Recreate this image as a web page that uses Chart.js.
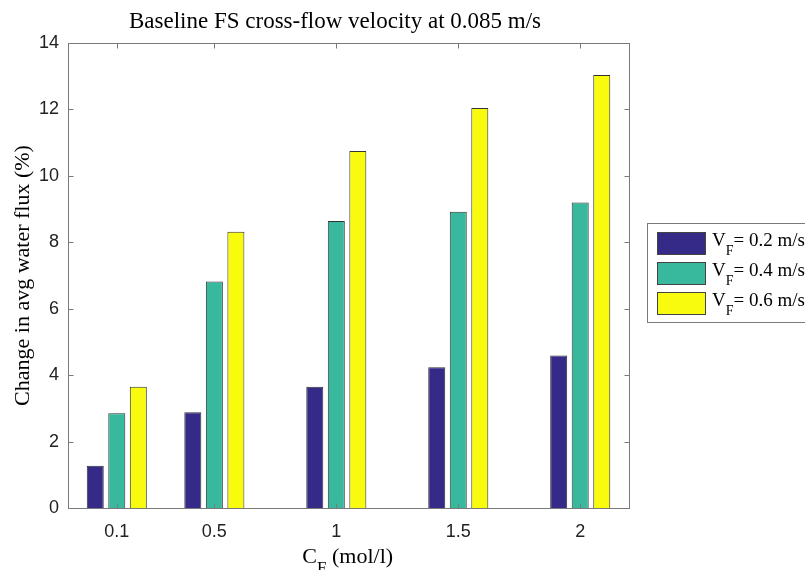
<!DOCTYPE html>
<html>
<head>
<meta charset="utf-8">
<script src="https://cdn.jsdelivr.net/npm/chart.js@4.4.0/dist/chart.umd.min.js"></script>
<style>
  html, body { margin: 0; padding: 0; background: #fff; }
  #wrap { width: 805px; height: 570px; }
</style>
</head>
<body>
<div id="wrap"><canvas id="fluxChart" width="805" height="570"></canvas></div>
<script>
// Data
const concentrations = [0.1, 0.5, 1, 1.5, 2];
const xTickLabels = ["0.1", "0.5", "1", "1.5", "2"];
const yTickValues = [0, 2, 4, 6, 8, 10, 12, 14];
const fluxV02 = [1.27, 2.88, 3.65, 4.24, 4.59];
const fluxV04 = [2.85, 6.82, 8.64, 8.92, 9.2];
const fluxV06 = [3.65, 8.32, 10.75, 12.04, 13.04];
const seriesNames = ["= 0.2 m/s", "= 0.4 m/s", "= 0.6 m/s"];
const seriesColors = ["#352a87", "#38b99e", "#f9fb0e"];

function toPoints(values) {
  return values.map(function (v, i) {
    return { x: concentrations[i], y: v };
  });
}

const serif = "'Liberation Serif', 'Times New Roman', serif";
const sans = "'Liberation Sans', Arial, sans-serif";
const axisColor = "#7a7a7a";

// main text + subscript + rest of text
function drawSubText(ctx, main, sub, rest, x, y, size) {
  ctx.font = size + "px " + serif;
  ctx.fillText(main, x, y);
  x += ctx.measureText(main).width;
  ctx.font = Math.round(size * 0.75) + "px " + serif;
  ctx.fillText(sub, x, y + size * 0.45);
  x += ctx.measureText(sub).width;
  ctx.font = size + "px " + serif;
  ctx.fillText(rest, x, y);
}

const frame = {
  id: "matlabFrame",
  afterDatasetsDraw: function (chart) {
    const ctx = chart.ctx;
    const a = chart.chartArea;
    const xs = chart.scales.x;
    const ys = chart.scales.y;
    ctx.save();
    ctx.strokeStyle = axisColor;
    ctx.lineWidth = 1;
    const L = Math.round(a.left) + 0.5, R = Math.round(a.right) + 0.5;
    const T = Math.round(a.top) + 0.5, B = Math.round(a.bottom) + 0.5;
    ctx.strokeRect(L, T, R - L, B - T);
    ctx.beginPath();
    yTickValues.forEach(function (v) {
      const py = Math.round(ys.getPixelForValue(v)) + 0.5;
      ctx.moveTo(L, py); ctx.lineTo(L + 5, py);
      ctx.moveTo(R, py); ctx.lineTo(R - 5, py);
    });
    concentrations.forEach(function (v) {
      const px = Math.round(xs.getPixelForValue(v)) + 0.5;
      ctx.moveTo(px, B); ctx.lineTo(px, B - 5);
      ctx.moveTo(px, T); ctx.lineTo(px, T + 5);
    });
    ctx.stroke();

    // title
    ctx.fillStyle = "#000";
    ctx.textAlign = "center";
    ctx.textBaseline = "alphabetic";
    ctx.font = "23px " + serif;
    ctx.fillText("Baseline FS cross-flow velocity at 0.085 m/s", 335, 28);

    // y axis title
    ctx.save();
    ctx.translate(29, (a.top + a.bottom) / 2);
    ctx.rotate(-Math.PI / 2);
    ctx.font = "22px " + serif;
    ctx.fillText("Change in avg water flux (%)", 0, 0);
    ctx.restore();

    // x axis title with subscript
    ctx.textAlign = "left";
    ctx.font = "22px " + serif;
    const w = ctx.measureText("C").width + ctx.measureText(" (mol/l)").width + 11;
    drawSubText(ctx, "C", "F", " (mol/l)", (a.left + a.right) / 2 - w / 2, 563, 22);

    // legend
    const lx = 647.5, ly = 223.5;
    ctx.fillStyle = "#fff";
    ctx.fillRect(lx, ly, 170, 99);
    ctx.strokeStyle = axisColor;
    ctx.strokeRect(lx, ly, 170, 99);
    chart.data.datasets.forEach(function (ds, i) {
      const sy = 232 + i * 30;
      ctx.fillStyle = ds.backgroundColor;
      ctx.fillRect(657, sy, 49, 23);
      ctx.strokeStyle = "#444";
      ctx.strokeRect(657.5, sy + 0.5, 48, 22);
      ctx.fillStyle = "#000";
      drawSubText(ctx, "V", "F", seriesNames[i], 712, sy + 14, 19);
    });
    ctx.restore();
  },
};

const fluxCtx = document.getElementById("fluxChart").getContext("2d");
const fluxChart = new Chart(fluxCtx, {
  type: "bar",
  data: {
    datasets: [
      { label: "V_F = 0.2 m/s", data: toPoints(fluxV02), backgroundColor: seriesColors[0] },
      { label: "V_F = 0.4 m/s", data: toPoints(fluxV04), backgroundColor: seriesColors[1] },
      { label: "V_F = 0.6 m/s", data: toPoints(fluxV06), backgroundColor: seriesColors[2] },
    ],
  },
  options: {
    responsive: false,
    animation: false,
    devicePixelRatio: 1,
    layout: { padding: { top: 43, right: 176, left: 0, bottom: 0 } },
    datasets: {
      bar: {
        borderColor: "#333",
        borderWidth: 1,
        categoryPercentage: 0.662,
        barPercentage: 0.79,
      },
    },
    scales: {
      x: {
        type: "linear",
        min: -0.1,
        max: 2.2,
        offset: false,
        grid: { display: false, drawTicks: false, offset: false },
        border: { display: false },
        afterBuildTicks: function (scale) {
          scale.ticks = concentrations.map(function (v) { return { value: v }; });
        },
        ticks: {
          padding: 13,
          color: "#222",
          font: { family: sans, size: 18 },
          maxRotation: 0,
          callback: function (value) {
            const i = concentrations.indexOf(value);
            return i >= 0 ? xTickLabels[i] : "";
          },
        },
        afterFit: function (scale) { scale.height = 62; },
      },
      y: {
        min: 0,
        max: 14,
        grid: { display: false, drawTicks: false },
        border: { display: false },
        afterBuildTicks: function (scale) {
          scale.ticks = yTickValues.map(function (v) { return { value: v }; });
        },
        ticks: {
          padding: 9,
          color: "#222",
          font: { family: sans, size: 18 },
        },
        afterFit: function (scale) { scale.width = 68; },
      },
    },
    plugins: {
      legend: { display: false },
      title: { display: false },
      tooltip: { enabled: false },
    },
  },
  plugins: [frame],
});
</script>
</body>
</html>
